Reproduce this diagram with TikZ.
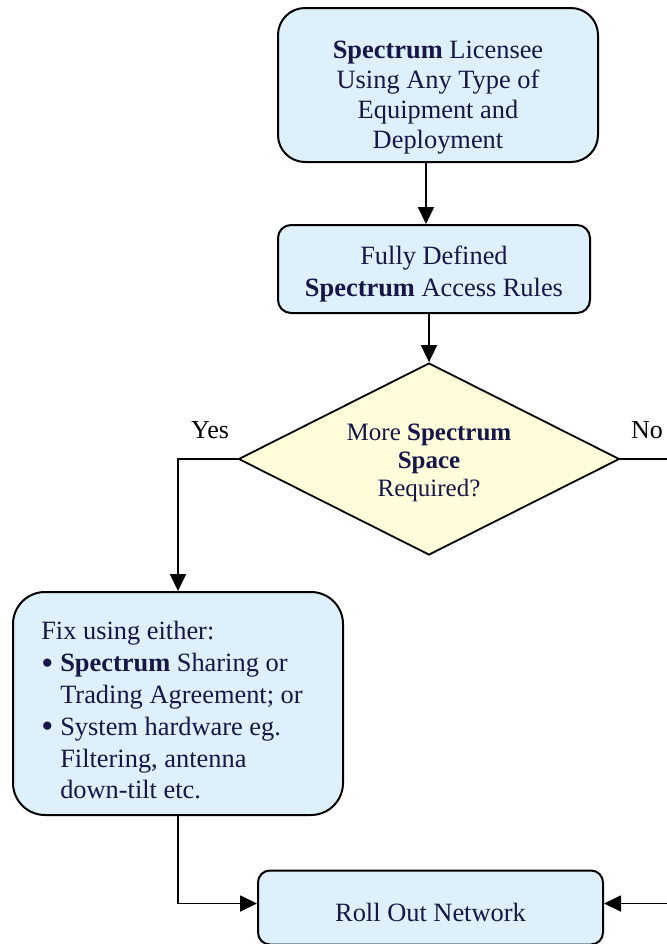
\documentclass[tikz,border=0pt]{standalone}
\usepackage{fontspec}
\setmainfont{Liberation Serif}
\usetikzlibrary{shapes.geometric,arrows.meta}
\definecolor{boxblue}{RGB}{221,240,252}
\definecolor{decyellow}{RGB}{255,253,218}
\definecolor{navytext}{RGB}{22,22,72}
\newcommand{\fixbullet}{\makebox[9.5pt][l]{\raisebox{-1.2pt}{\scalebox{1.3}{\textbullet}}}}

\begin{document}
\begin{tikzpicture}[x=0.5pt,y=-0.5pt, line cap=round,
  box/.style={draw=black, line width=1pt, fill=boxblue, text=navytext, align=center, inner sep=0pt, font=\fontsize{13.2}{15}\selectfont},
  decide/.style={draw=black, line width=0.9pt, fill=decyellow, text=navytext, diamond, aspect=2, align=center, inner sep=0pt, font=\fontsize{12.5}{14}\selectfont},
  arr/.style={line width=0.9pt, -{Triangle[length=8.5pt,width=8pt]}},
  lab/.style={font=\fontsize{13}{15}\selectfont}]
\clip (0,0) rectangle (667,944);
% boxes
\node[box, minimum width=160pt, minimum height=77pt, rounded corners=13.5pt] (lic) at (438,85) {\rule{0pt}{21pt}\textbf{Spectrum} Licensee\\Using Any Type of\\Equipment and\\Deployment};
\node[box, minimum width=156pt, minimum height=44pt, rounded corners=6.5pt, font=\fontsize{13.2}{16}\selectfont] (rules) at (434,269) {\rule{0pt}{14pt}Fully Defined\\\textbf{Spectrum} Access Rules};
\node[decide, minimum width=190.5pt, minimum height=96pt] (dec) at (429,459) {\rule{0pt}{12pt}More \textbf{Spectrum}\\\textbf{Space}\\Required?};
\node[box, align=left, minimum width=165pt, minimum height=111.5pt, rounded corners=16pt, font=\fontsize{13.2}{15.9}\selectfont] (fix) at (178,703.5) {\rule{0pt}{16pt}Fix using either:\\
\fixbullet\textbf{Spectrum} Sharing or\\
\hspace*{9.5pt}Trading Agreement; or\hspace*{6pt}\mbox{}\\
\fixbullet System hardware eg.\\
\hspace*{9.5pt}Filtering, antenna\\
\hspace*{9.5pt}down-tilt etc.};
\node[box, minimum width=172.5pt, minimum height=37pt, rounded corners=6pt, text height=14pt] (roll) at (430.5,907.5) {Roll Out Network};
% labels
\node[lab] (yes) at (210,430) {Yes};
\node[lab] (no) at (647,430) {No};
% connectors
\draw[arr] ([xshift=-6pt]lic.south) -- ([xshift=-6pt]lic.south |- rules.north);
\draw[arr] (rules.south -| dec.north) -- (dec.north);
\draw[arr] (dec.west) -| (fix.north);
\coordinate (noturn) at (700,459);
\draw[arr] (dec.east) -- (noturn) |- ([yshift=2pt]roll.east);
\draw[arr] (fix.south) |- ([yshift=2pt]roll.west);
\end{tikzpicture}
\end{document}
